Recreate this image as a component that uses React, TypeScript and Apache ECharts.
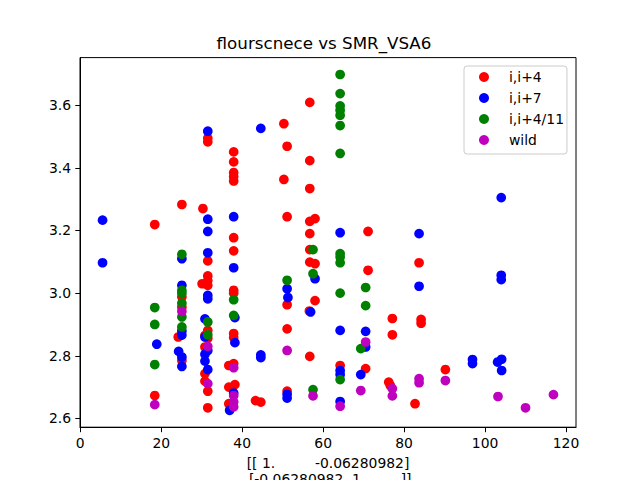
import { useEffect, useRef } from "react";
import * as echarts from "echarts";

// values (x, y)
const seriesNames = ["i,i+4", "i,i+7", "i,i+4/11", "wild"];
const seriesColors = ["#ff0000", "#0000ff", "#008000", "#bf00bf"];

const i4Points = [
  [31.5, 3.495], [31.5, 3.483], [37.9, 3.451], [37.9, 3.419], [37.9, 3.385], [37.9, 3.372],
  [37.9, 3.358], [25.1, 3.283], [30.3, 3.27], [18.4, 3.219], [37.9, 3.177], [37.9, 3.135],
  [31.5, 3.103], [31.5, 3.055], [30.1, 3.03], [31.5, 3.04], [31.5, 3.025], [37.9, 3.009],
  [37.9, 3.0], [37.9, 2.871], [37.9, 2.858], [36.7, 2.769], [37.9, 2.775], [36.7, 2.7],
  [38.2, 2.708], [36.7, 2.647], [18.4, 2.673], [25.1, 2.988], [25.1, 2.955], [24.2, 2.86],
  [25.1, 2.785], [31.5, 2.881], [31.5, 2.856], [30.8, 2.865], [30.8, 2.828], [30.8, 2.743],
  [30.8, 2.719], [31.5, 2.687], [31.5, 2.634],
  [56.7, 3.609], [50.3, 3.541], [51.1, 3.469], [56.7, 3.423], [50.3, 3.363], [56.7, 3.334],
  [51.1, 3.244], [56.7, 3.229], [58.0, 3.238], [56.7, 3.19], [71.1, 3.197],
  [56.7, 3.139], [56.7, 3.099], [58.0, 3.094], [71.1, 3.073], [51.1, 2.963], [58.0, 2.976],
  [56.6, 2.943], [77.1, 2.919], [77.1, 2.867], [51.1, 2.886], [56.7, 2.798], [64.2, 2.769],
  [70.5, 2.759], [76.2, 2.716], [76.6, 2.705], [43.3, 2.657], [44.6, 2.652], [51.1, 2.687],
  [83.7, 3.097], [84.2, 2.916], [84.2, 2.904], [90.2, 2.756], [82.7, 2.647],
];

const i7Points = [
  [31.5, 3.517], [5.5, 3.233], [31.5, 3.236], [31.5, 3.197], [37.9, 3.244], [37.9, 3.081],
  [5.5, 3.097], [25.1, 3.11], [31.5, 3.129], [31.5, 2.993], [31.5, 2.982], [38.2, 2.922],
  [38.2, 2.842], [37.9, 2.681], [36.9, 2.626], [25.1, 3.025], [25.1, 2.879], [25.1, 2.866],
  [24.3, 2.814], [25.1, 2.796], [25.1, 2.766], [18.9, 2.837], [30.8, 2.918], [30.8, 2.86],
  [31.5, 2.817], [30.8, 2.805], [30.8, 2.783], [31.5, 2.756],
  [44.6, 3.526], [64.2, 3.193],
  [58.0, 3.046], [51.1, 3.014], [51.3, 2.986], [56.9, 2.94], [64.2, 2.881], [70.5, 2.878],
  [70.5, 2.828], [44.6, 2.803], [44.6, 2.794], [64.2, 2.753], [64.2, 2.74], [69.3, 2.74],
  [51.1, 2.677], [51.1, 2.665], [64.2, 2.654],
  [104.0, 3.305], [83.7, 3.19], [83.7, 3.022], [104.0, 3.057], [104.0, 3.043], [96.9, 2.788],
  [96.9, 2.775], [103.1, 2.78], [104.1, 2.789], [104.1, 2.753],
];

const i411Points = [
  [25.1, 3.124], [25.1, 3.009], [25.1, 3.0], [25.1, 2.968], [25.1, 2.924], [25.1, 2.892],
  [18.4, 2.954], [18.4, 2.9], [18.4, 2.772], [31.5, 2.908], [31.5, 2.867], [37.9, 2.979],
  [37.9, 2.929],
  [64.2, 3.698], [64.2, 3.637], [64.2, 3.598], [64.2, 3.584], [64.2, 3.568], [64.2, 3.535],
  [64.2, 3.446],
  [57.5, 3.139], [57.5, 3.062], [64.2, 3.126], [64.2, 3.115], [64.2, 3.097], [51.1, 3.041],
  [64.2, 3.0], [70.5, 3.018], [70.5, 2.96], [69.3, 2.823], [64.2, 2.724], [57.5, 2.692],
];

const wildPoints = [
  [25.1, 2.942], [31.5, 2.83], [37.9, 2.762], [37.9, 2.673], [37.9, 2.653], [37.9, 2.637],
  [18.4, 2.644], [31.5, 2.711],
  [70.5, 2.844], [51.1, 2.817], [69.3, 2.689], [77.1, 2.695], [77.1, 2.672], [57.5, 2.672],
  [64.2, 2.639],
  [83.7, 2.727], [83.7, 2.714], [90.2, 2.721], [103.2, 2.67], [110.0, 2.634], [116.9, 2.676],
];

const xTicks = [0, 20, 40, 60, 80, 100, 120];
const yTicks = [2.6, 2.8, 3.0, 3.2, 3.4, 3.6];

const titleText = "flourscnece vs SMR_VSA6";
const xLabelText = "[[ 1.         -0.06280982]\n [-0.06280982  1.        ]]";

const FONT = "DejaVu Sans";

export default function App() {
  const chartRef = useRef<HTMLDivElement | null>(null);

  useEffect(() => {
    if (!chartRef.current) {
      return;
    }
    document.body.style.margin = "0";

    const chart = echarts.init(chartRef.current, null, { renderer: "svg" });
    const allPoints = [i4Points, i7Points, i411Points, wildPoints];

    chart.setOption({
      animation: false,
      backgroundColor: "#ffffff",
      textStyle: { fontFamily: FONT },
      title: {
        text: titleText,
        left: 324,
        top: 34,
        padding: 0,
        textAlign: "center",
        textStyle: { fontFamily: FONT, fontSize: 16.7, fontWeight: "normal", color: "#000" },
      },
      legend: {
        left: 464,
        top: 66,
        orient: "vertical",
        icon: "circle",
        itemWidth: 10,
        itemHeight: 10,
        itemGap: 5,
        padding: [3, 3, 6, 15],
        backgroundColor: "rgba(255,255,255,0.8)",
        borderColor: "#cccccc",
        borderWidth: 1,
        borderRadius: 3,
        textStyle: {
          fontFamily: FONT,
          fontSize: 13.9,
          color: "#000",
          lineHeight: 16,
          padding: [0, 0, 0, 15],
        },
        data: seriesNames,
      },
      grid: {
        left: 80,
        right: 64,
        top: 57.6,
        bottom: 52.8,
        show: true,
        borderColor: "#000",
        borderWidth: 1,
        outerBoundsMode: "none",
        containLabel: false,
      },
      xAxis: {
        type: "value",
        min: -0.07,
        max: 122.47,
        name: xLabelText,
        nameLocation: "middle",
        nameGap: 28,
        nameTextStyle: { fontFamily: FONT, fontSize: 13.9, color: "#000", lineHeight: 16 },
        axisLine: { show: true, lineStyle: { color: "#000", width: 1 } },
        axisTick: { show: true, length: 5, lineStyle: { color: "#000" }, customValues: xTicks },
        axisLabel: {
          color: "#000",
          fontFamily: FONT,
          fontSize: 13.9,
          margin: 9,
          customValues: xTicks,
          formatter: (v: number) => String(v),
        },
        splitLine: { show: false },
      },
      yAxis: {
        type: "value",
        min: 2.572,
        max: 3.752,
        axisLine: { show: true, lineStyle: { color: "#000", width: 1 } },
        axisTick: { show: true, length: 5, lineStyle: { color: "#000" }, customValues: yTicks },
        axisLabel: {
          color: "#000",
          fontFamily: FONT,
          fontSize: 13.9,
          margin: 9,
          customValues: yTicks,
          formatter: (v: number) => v.toFixed(1),
        },
        splitLine: { show: false },
      },
      series: seriesNames.map((name, i) => ({
        name,
        type: "scatter",
        symbol: "circle",
        symbolSize: 9.7,
        itemStyle: { color: seriesColors[i], opacity: 1 },
        emphasis: { disabled: true },
        data: allPoints[i],
      })),
    });

    return () => {
      chart.dispose();
    };
  }, []);

  return <div ref={chartRef} style={{ width: 640, height: 480 }} />;
}
